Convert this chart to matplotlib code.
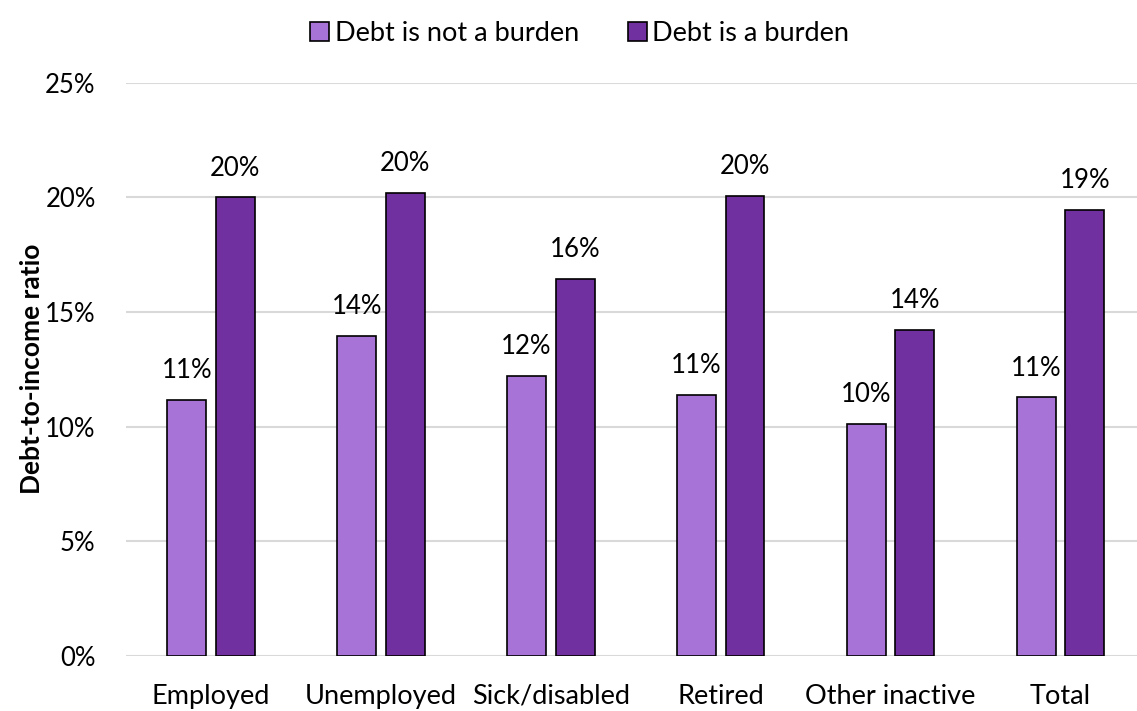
import matplotlib
matplotlib.use("Agg")
import matplotlib.pyplot as plt
import numpy as np

categories = ["Employed", "Unemployed", "Sick/disabled", "Retired", "Other inactive", "Total"]
not_burden = [0.1116, 0.1395, 0.1222, 0.1139, 0.1011, 0.1128]
is_burden = [0.2000, 0.2018, 0.1643, 0.2005, 0.1421, 0.1944]
series_names = ["Debt is not a burden", "Debt is a burden"]
y_ticks = [0, 0.05, 0.10, 0.15, 0.20, 0.25]

light = "#A773D6"
dark = "#7030A0"

plt.rcParams["font.family"] = ["Lato", "DejaVu Sans"]

fig = plt.figure(figsize=(11.37, 7.11), dpi=100)
ax = fig.add_axes([0.111, 0.0774, 0.8964, 0.8064])

x = np.arange(len(categories))
w = 0.229
off = 0.143
b1 = ax.bar(x - off, not_burden, w, color=light, edgecolor="black", linewidth=1.2,
            label=series_names[0], zorder=3)
b2 = ax.bar(x + off, is_burden, w, color=dark, edgecolor="black", linewidth=1.2,
            label=series_names[1], zorder=3)

for bars in (b1, b2):
    for r in bars:
        h = r.get_height()
        ax.annotate(f"{h * 100:.0f}%", (r.get_x() + r.get_width() / 2, h),
                    xytext=(0, 12), textcoords="offset points",
                    ha="center", va="bottom", fontsize=18.5, color="black")

ax.set_xlim(-0.5, len(categories) - 0.5)
ax.set_ylim(0, 0.25)
ax.set_yticks(y_ticks)
ax.set_yticklabels([f"{t * 100:.0f}%" for t in y_ticks])
ax.set_xticks(x)
ax.set_xticklabels(categories, fontsize=19.5)
ax.tick_params(axis="both", length=0)
ax.tick_params(axis="y", pad=22, labelsize=18.5)
ax.tick_params(axis="x", pad=20)
ax.grid(axis="y", color="#D9D9D9", linewidth=1.5, zorder=0)
for s in ax.spines.values():
    s.set_visible(False)

ax.set_ylabel("Debt-to-income ratio", fontsize=19, fontweight="bold", labelpad=1)

fig.legend(loc="upper center", bbox_to_anchor=(0.51, 1.005), ncol=2, frameon=False,
           fontsize=19.5, handlelength=0.7, handleheight=0.7, handletextpad=0.2,
           columnspacing=1.8)

fig.savefig("out.png", dpi=100)
